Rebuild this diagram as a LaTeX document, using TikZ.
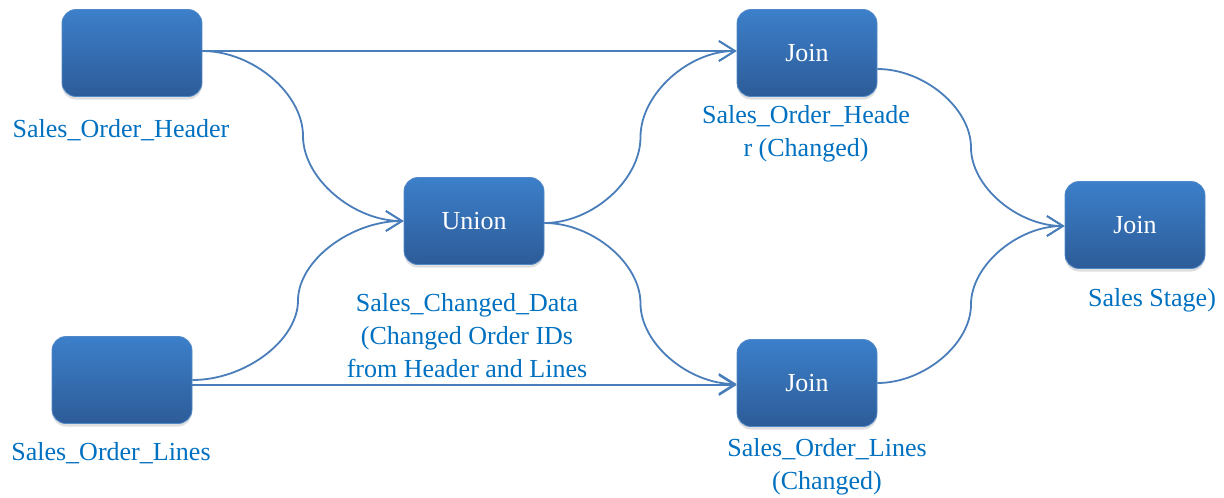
\documentclass[tikz,border=0pt]{standalone}
\usepackage{fontspec}
\setmainfont{Liberation Serif}
\newfontfamily\captionface{Liberation Serif}
\usetikzlibrary{arrows.meta,calc,shadows}
\definecolor{boxtop}{RGB}{60,127,202}
\definecolor{boxbot}{RGB}{45,92,152}
\definecolor{boxedge}{RGB}{80,136,200}
\definecolor{linkcol}{RGB}{74,126,187}
\definecolor{labelcol}{RGB}{0,112,192}
\tikzset{
  box/.style={draw=boxedge, line width=0.8pt, rounded corners=14pt,
    minimum width=140pt, minimum height=87pt,
    top color=boxtop, bottom color=boxbot, text=white,
    font=\captionface\fontsize{26}{30}\selectfont,
    drop shadow={opacity=0.25, shadow xshift=0pt, shadow yshift=-3pt}},
  lbl/.style={text=labelcol, align=center, inner sep=0pt,
    font=\captionface\fontsize{26}{33}\selectfont},
  link/.style={draw=linkcol, line width=1.8pt,
    -{Straight Barb[length=16pt,width=20pt]}}
}
% S-shaped connector: leaves horizontally, turns vertical half way, arrives horizontally
\newcommand\curvelink[2]{%
  \draw[link] let \p1=(#1), \p2=(#2) in
    (\p1) .. controls ({\x1+(\x2-\x1)/4},\y1)
                 and ({(\x1+\x2)/2},{\y1+(\y2-\y1)/4})
          .. ({(\x1+\x2)/2},{(\y1+\y2)/2})
          .. controls ({(\x1+\x2)/2},{\y1+3*(\y2-\y1)/4})
                 and ({\x1+3*(\x2-\x1)/4},\y2)
          .. (\p2);}
\begin{document}
\begin{tikzpicture}[x=1pt,y=-1pt]
\useasboundingbox (0,0) rectangle (1224,498);

% process boxes
\node[box] (hdr) at (132,53) {};
\node[box] (lin) at (122,380) {};
\node[box] (uni) at (474,221) {Union};
\node[box] (j1) at (807,53) {Join};
\node[box] (j2) at (807,383) {Join};
\node[box] (j3) at (1135,225) {Join};

% captions
\node[lbl] (lhdr) at (121,130) {Sales\_Order\_Header};
\node[lbl] (llin) at (111,453) {Sales\_Order\_Lines};
\node[lbl] (luni) at (467,336) {Sales\_Changed\_Data\\(Changed Order IDs\\from Header and Lines};
\node[lbl] (lj1) at (806,134) {Sales\_Order\_Heade\\r (Changed)};
\node[lbl] (lj2) at (827,467) {Sales\_Order\_Lines\\(Changed)};
\node[lbl] (lj3) at (1152,300) {Sales Stage)};

% connectors
\draw[link] ([yshift=2pt]hdr.east) -- ([yshift=2pt]j1.west);
\curvelink{[yshift=2pt]hdr.east}{uni.west}
\curvelink{lin.east}{uni.west}
\draw[link] ([yshift=-5pt]lin.east) -- ([yshift=-2pt]j2.west);
\curvelink{[yshift=-2pt]uni.east}{[yshift=2pt]j1.west}
\curvelink{[yshift=-2pt]uni.east}{[yshift=-1pt]j2.west}
\curvelink{[yshift=-16pt]j1.east}{[yshift=-1pt]j3.west}
\curvelink{j2.east}{[yshift=-1pt]j3.west}
\end{tikzpicture}
\end{document}
